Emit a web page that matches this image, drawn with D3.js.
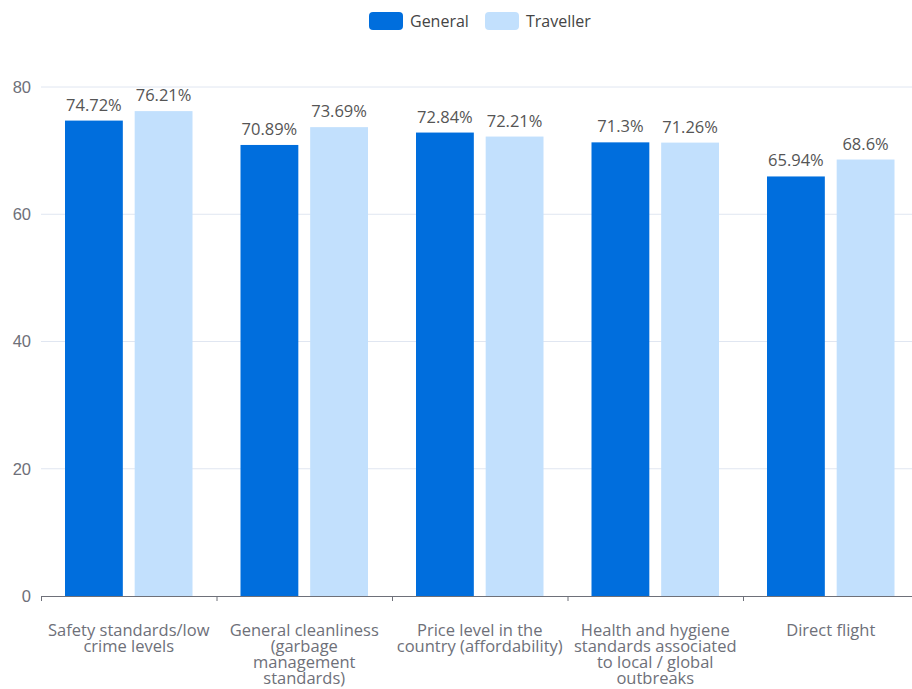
<!DOCTYPE html>
<html>
<head>
<meta charset="utf-8">
<script src="https://cdn.jsdelivr.net/npm/d3@7"></script>
<style>
  html, body { margin: 0; padding: 0; background: #fff; }
  svg { display: block; font-family: "Open Sans", "Noto Sans", sans-serif; }
</style>
</head>
<body>
<svg id="chart" width="912" height="689"></svg>
<script>
// Travel factor scores by respondent group
const categories = [
  ["Safety standards/low", "crime levels"],
  ["General cleanliness", "(garbage", "management", "standards)"],
  ["Price level in the", "country (affordability)"],
  ["Health and hygiene", "standards associated", "to local / global", "outbreaks"],
  ["Direct flight"]
];
const seriesNames = ["General", "Traveller"];
const generalValues = [74.72, 70.89, 72.84, 71.3, 65.94];
const travellerValues = [76.21, 73.69, 72.21, 71.26, 68.6];
const yTicks = [0, 20, 40, 60, 80];

const colors = ["#006edd", "#c2e0fd"];
const fontSize = "16.5px";
const svg = d3.select("#chart");
const margin = { left: 41, right: 918.5, top: 87, bottom: 596 };

const x0 = d3.scaleBand()
  .domain(d3.range(categories.length))
  .range([margin.left, margin.right]);
const x1 = d3.scaleBand()
  .domain(seriesNames)
  .range([24, x0.bandwidth() - 24])
  .paddingInner(0.17);
const y = d3.scaleLinear().domain([0, 80]).range([margin.bottom, margin.top]);

// grid lines
svg.append("g")
  .selectAll("line")
  .data(yTicks.filter(t => t > 0))
  .join("line")
  .attr("x1", margin.left).attr("x2", 912)
  .attr("y1", d => y(d)).attr("y2", d => y(d))
  .attr("stroke", "#e0e6f1").attr("stroke-width", 1);

// y axis labels
const yAxis = d3.axisLeft(y).tickValues(yTicks).tickSize(0).tickPadding(10);
const yg = svg.append("g").attr("transform", `translate(${margin.left},0)`).call(yAxis);
yg.select(".domain").remove();
yg.selectAll("text").attr("fill", "#6e7079").style("font-size", fontSize)
  .style("font-family", "inherit");

// bars
const seriesData = [generalValues, travellerValues];
const groups = svg.append("g")
  .selectAll("g")
  .data(categories.map((c, i) => i))
  .join("g")
  .attr("transform", i => `translate(${x0(i)},0)`);

groups.selectAll("rect")
  .data(i => seriesNames.map((s, k) => ({ s, k, v: seriesData[k][i] })))
  .join("rect")
  .attr("x", d => x1(d.s))
  .attr("width", x1.bandwidth())
  .attr("y", d => y(d.v))
  .attr("height", d => y(0) - y(d.v))
  .attr("fill", d => colors[d.k]);

groups.selectAll("text.val")
  .data(i => seriesNames.map((s, k) => ({ s, k, v: seriesData[k][i] })))
  .join("text")
  .attr("class", "val")
  .attr("x", d => x1(d.s) + x1.bandwidth() / 2)
  .attr("y", d => y(d.v) - 10)
  .attr("text-anchor", "middle")
  .attr("fill", "#555")
  .style("font-size", fontSize)
  .text(d => d.v + "%");

// x axis
const xAxis = d3.axisBottom(x0).tickSize(0).tickFormat("");
const xg = svg.append("g").attr("transform", `translate(0,${margin.bottom})`).call(xAxis);
xg.select(".domain").attr("stroke", "#6e7079").attr("d", `M${margin.left},0.5H${margin.right}`);
// boundary ticks between categories
xg.append("g").selectAll("line")
  .data(d3.range(categories.length + 1))
  .join("line")
  .attr("x1", i => margin.left + i * x0.bandwidth() + 0.5)
  .attr("x2", i => margin.left + i * x0.bandwidth() + 0.5)
  .attr("y1", 0).attr("y2", 5)
  .attr("stroke", "#6e7079");

// category labels
const labels = svg.append("g")
  .selectAll("text")
  .data(categories)
  .join("text")
  .attr("x", (d, i) => x0(i) + x0.bandwidth() / 2)
  .attr("y", 636)
  .attr("text-anchor", "middle")
  .attr("fill", "#6e7079")
  .style("font-size", fontSize);
labels.selectAll("tspan")
  .data((d, i) => d.map(t => ({ t, i })))
  .join("tspan")
  .attr("x", d => x0(d.i) + x0.bandwidth() / 2)
  .attr("dy", (d, j) => j === 0 ? 0 : 16)
  .text(d => d.t);

// legend
const legend = svg.append("g");
const legendItems = [{ name: seriesNames[0], x: 369 }, { name: seriesNames[1], x: 485 }];
legendItems.forEach((it, k) => {
  legend.append("rect")
    .attr("x", it.x).attr("y", 12).attr("width", 34).attr("height", 18)
    .attr("rx", 4).attr("fill", colors[k]);
  legend.append("text")
    .attr("x", it.x + 41).attr("y", 21).attr("dy", "0.35em")
    .attr("fill", "#444").style("font-size", "16px")
    .text(it.name);
});
</script>
</body>
</html>
